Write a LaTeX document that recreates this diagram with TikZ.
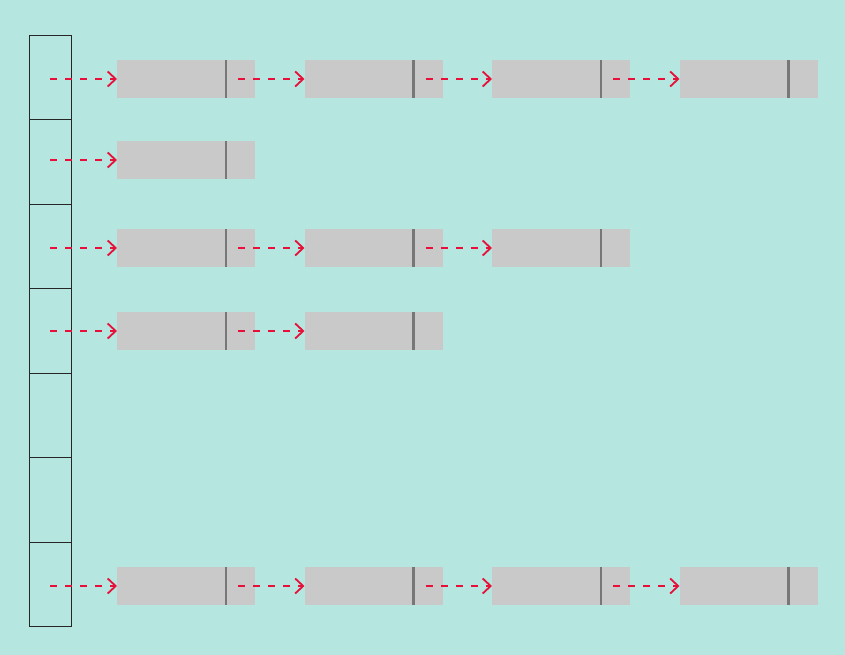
\documentclass[tikz,border=0pt]{standalone}
\usepackage{tikz}
\usetikzlibrary{calc,positioning,arrows.meta}
\definecolor{bgcol}{HTML}{B6E6E0}
\definecolor{ptrred}{HTML}{E8103A}
\definecolor{nodegrey}{HTML}{C9C9C9}
\definecolor{bargrey}{HTML}{777777}

\begin{document}
\begin{tikzpicture}[x=1pt,y=-1pt]

\tikzset{cell/.style={draw=black!85,line width=0.8pt,minimum width=42pt,minimum height=84.5pt,inner sep=0pt,outer sep=0pt},
listnode/.style={fill=nodegrey,minimum width=138pt,minimum height=38pt,inner sep=0pt,outer sep=0pt,
  path picture={\draw[bargrey,line width=2.8pt] ($(path picture bounding box.north west)+(109pt,0)$) -- ($(path picture bounding box.south west)+(109pt,0)$);}},
ptr/.style={draw=ptrred,line width=1.8pt,dash pattern=on 7pt off 8pt,-{Straight Barb[length=8pt,width=15pt,line width=1.8pt]}}}

% background
\fill[bgcol] (0,0) rectangle (845,655);
\useasboundingbox (0,0) rectangle (845,655);

% array cells
\foreach \i in {1,...,7} \node[cell] (c\i) at (50, {35+84.5*(\i-0.5)}) {};

% list nodes
\foreach \row/\n/\y in {1/4/79,2/1/160,3/3/248,4/2/331,7/4/586} \foreach \k in {1,...,\n} \node[listnode] (n\row\k) at ({186+187.5*(\k-1)}, \y) {};

% pointers from the array
\foreach \row in {1,2,3,4,7} \draw[ptr] (c\row.center |- n\row1.west) -- (n\row1.west);

% pointers between nodes
\foreach \row/\a/\b in {1/1/2,1/2/3,1/3/4,3/1/2,3/2/3,4/1/2,7/1/2,7/2/3,7/3/4} \draw[ptr] ($(n\row\a.west)+(121pt,0)$) -- (n\row\b.west);

\end{tikzpicture}
\end{document}
